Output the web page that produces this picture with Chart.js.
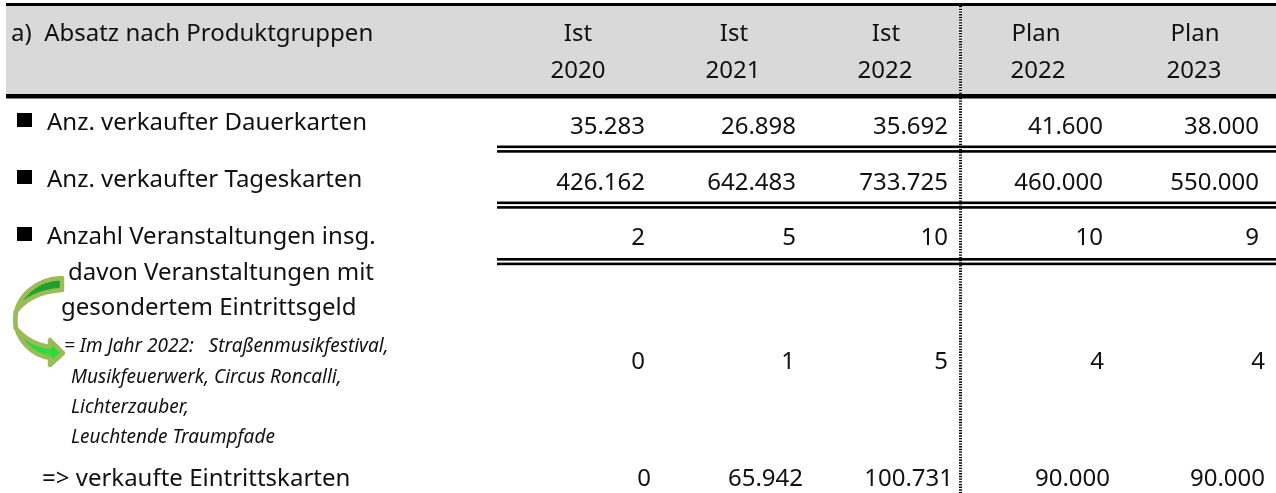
<!DOCTYPE html>
<html lang="de"><head><meta charset="utf-8">
<style>html,body{margin:0;padding:0;background:#fff}canvas{display:block}</style>
<script src="https://cdn.jsdelivr.net/npm/chart.js@4/dist/chart.umd.min.js"></script>
</head><body><canvas id="c" width="1276" height="493"></canvas>
<script>
// ---- data ----
const title = "a)  Absatz nach Produktgruppen";
const headerTop = ["Ist","Ist","Ist","Plan","Plan"];
const headerYear = ["2020","2021","2022","2022","2023"];
const rowLabels = ["Anz. verkaufter Dauerkarten","Anz. verkaufter Tageskarten","Anzahl Veranstaltungen insg.","davon Veranstaltungen mit","gesondertem Eintrittsgeld","=> verkaufte Eintrittskarten"];
const noteLines = ["= Im Jahr 2022:   Straßenmusikfestival,","Musikfeuerwerk, Circus Roncalli,","Lichterzauber,","Leuchtende Traumpfade"];
const ist2020 = [35283,426162,2,0,0];
const ist2021 = [26898,642483,5,1,65942];
const ist2022 = [35692,733725,10,5,100731];
const plan2022 = [41600,460000,10,4,90000];
const plan2023 = [38000,550000,9,4,90000];
const series = [ist2020,ist2021,ist2022,plan2022,plan2023];
// ---- layout (canvas units) ----
const rightEdges = [
  [645,796,948,1103,1259],
  [645,796,948,1103,1259],
  [645,796,948,1103,1259],
  [645,795,948,1104,1265],
  [651,803,953,1110,1265]];
const topCenter = [578,734,886,1036,1195];
const yearCenter = [578,733,885,1038,1194];
const rowBase = [134,190,245,369,486];
const FONT = '"Noto Sans"';
const px = 24, pxNote = 19;

const tablePlugin = {
  id:'table',
  beforeDatasetsDraw(ch){
    const {ctx,scales:{x,y}} = ch, X=v=>x.getPixelForValue(v), Y=v=>y.getPixelForValue(v);
    const rect=(a,b,c,d,col)=>{ctx.fillStyle=col;ctx.fillRect(X(a),Y(b),X(c)-X(a),Y(d)-Y(b));};
    rect(6,6,1276,94,'#d9d9d9');
    rect(959,6,962,94,'#fff');
    // dotted divider
    ctx.save();ctx.strokeStyle='#000';ctx.lineWidth=3;ctx.setLineDash([1.35,1.35]);
    ctx.beginPath();ctx.moveTo(X(960.5),Y(6));ctx.lineTo(X(960.5),Y(493));ctx.stroke();ctx.restore();
    rect(6,3,1276,6,'#000'); rect(6,94,1276,98.5,'#000');
    for(const t of [145.5,201.5,258]){ rect(497,t,1276,t+2.6,'#000'); rect(497,t+4.6,1276,t+7.2,'#000'); }
    // bullets
    for(const t of [113,170,227]) rect(17,t,32,t+14,'#000');
    // arrow
    const g=ctx.createLinearGradient(0,Y(278),0,Y(365));
    g.addColorStop(0,'#1c9a2a');g.addColorStop(1,'#30e83e');
    ctx.save();ctx.beginPath();
    ctx.moveTo(X(62),Y(278));
    ctx.bezierCurveTo(X(36),Y(279),X(16),Y(296),X(15),Y(320));
    ctx.bezierCurveTo(X(16),Y(340),X(32),Y(355),X(50),Y(358));
    ctx.lineTo(X(50),Y(365));ctx.lineTo(X(63),Y(353));ctx.lineTo(X(50),Y(340));ctx.lineTo(X(50),Y(347));
    ctx.bezierCurveTo(X(36),Y(345),X(24),Y(338),X(15.5),Y(328));
    ctx.lineTo(X(15.5),Y(312));
    ctx.bezierCurveTo(X(24),Y(300),X(40),Y(291),X(62),Y(290));
    ctx.closePath();ctx.fillStyle=g;ctx.fill();
    ctx.strokeStyle='#9bbb59';ctx.lineWidth=4.5;ctx.lineJoin='round';ctx.stroke();ctx.restore();
  },
  afterDatasetsDraw(ch){
    const {ctx,scales:{x,y}} = ch, X=v=>x.getPixelForValue(v), Y=v=>y.getPixelForValue(v);
    ctx.save();ctx.fillStyle='#111';ctx.textBaseline='alphabetic';
    const T=(s,a,b,al='left',f=`${px}px ${FONT}`)=>{ctx.font=f;ctx.textAlign=al;ctx.fillText(s,X(a),Y(b));};
    T(title,11,41);
    headerTop.forEach((s,i)=>{T(s,topCenter[i],41,'center');T(headerYear[i],yearCenter[i],78,'center');});
    const lx=[47,47,47,68,61,42], ly=[130,187,244,280,315,486];
    rowLabels.forEach((s,i)=>T(s,lx[i],ly[i]));
    const nx=[64,71,71,71], ny=[352,383,413,443];
    noteLines.forEach((s,i)=>T(s,nx[i],ny[i],'left',`italic ${pxNote}px ${FONT}`));
    ch.data.datasets.forEach((ds,i)=>{
      ch.getDatasetMeta(i).data.forEach((el,r)=>{
        ctx.font=`${px}px ${FONT}`;ctx.textAlign='right';
        ctx.fillText(series[i][r].toLocaleString('de-DE'),el.x,el.y);
      });
    });
    ctx.restore();
  }
};
new Chart(document.getElementById('c'),{
  type:'scatter',
  data:{datasets:series.map((vals,i)=>({
    label:headerTop[i]+' '+headerYear[i],
    data:vals.map((v,r)=>({x:rightEdges[r][i],y:rowBase[r],v})),
    pointRadius:0
  }))},
  options:{responsive:false,animation:false,devicePixelRatio:1,
    layout:{padding:0},
    plugins:{legend:{display:false},tooltip:{enabled:false},title:{display:false}},
    scales:{x:{type:'linear',min:0,max:1276,display:false},y:{type:'linear',min:0,max:493,reverse:true,display:false}}
  },
  plugins:[tablePlugin]
});
</script></body></html>
